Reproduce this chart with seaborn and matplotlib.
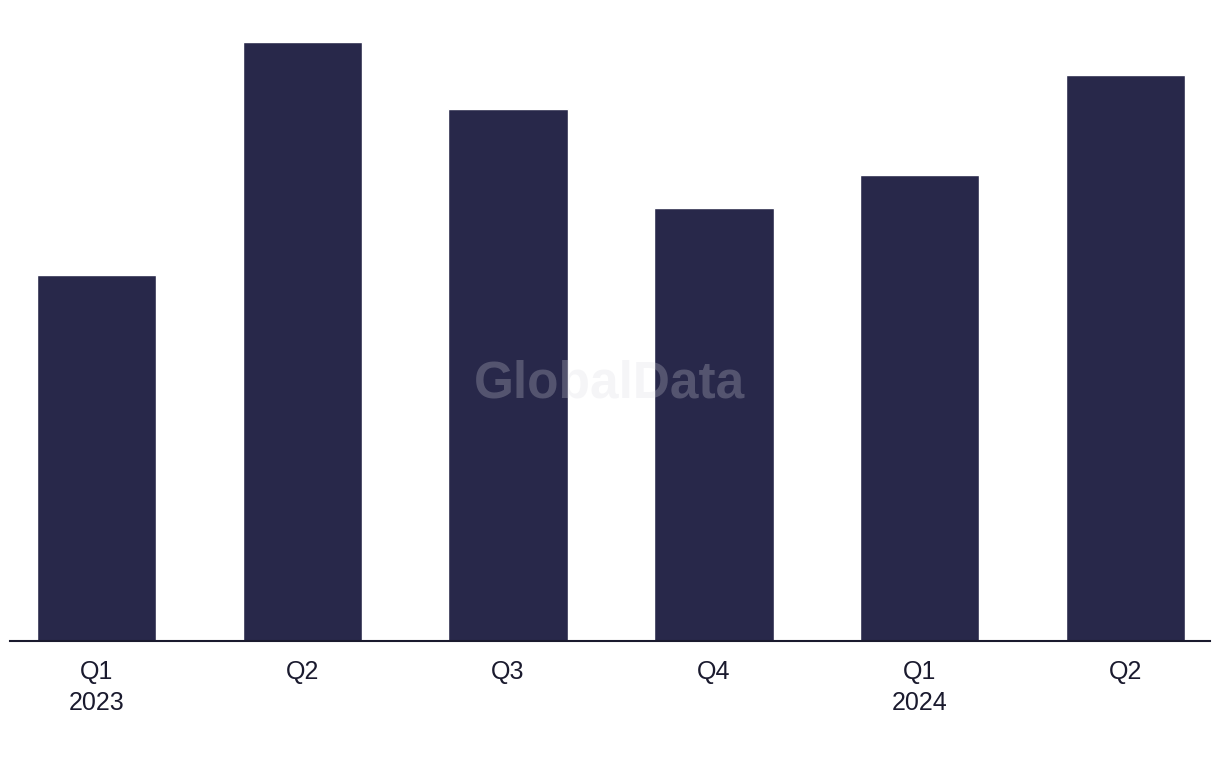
import matplotlib
matplotlib.use("Agg")
import matplotlib.pyplot as plt
import seaborn as sns
import pandas as pd

quarters = ["Q1\n2023", "Q2", "Q3", "Q4", "Q1\n2024", "Q2"]
values = [11, 18, 16, 13, 14, 17]
bar_color = "#28284a"

sns.set_style("white")
plt.rcParams["font.family"] = ["Liberation Sans", "DejaVu Sans"]

df = pd.DataFrame({"quarter": range(len(quarters)), "value": values})

fig = plt.figure(figsize=(12.2, 7.68), dpi=100)
ax = fig.add_axes([10 / 1220, 127 / 768, 1200 / 1220, 599 / 768])

sns.barplot(data=df, x="quarter", y="value", color=bar_color, width=0.58,
            saturation=1, ax=ax)

ax.set_xlim(-0.42, 5.41)
ax.set_ylim(0, 18)
ax.set_xticks(range(len(quarters)))
ax.set_xticklabels(quarters, fontsize=18, color="#1a1a2e", linespacing=1.35)
ax.tick_params(axis="x", length=0, pad=14)
ax.set_yticks([])
ax.set_xlabel("")
ax.set_ylabel("")
for side in ["top", "right", "left"]:
    ax.spines[side].set_visible(False)
ax.spines["bottom"].set_color("#1a1a2e")
ax.spines["bottom"].set_linewidth(1.5)

# watermark
fig.text(610 / 1220, 1 - 384 / 768, "GlobalData", ha="center", va="center",
         fontsize=37, fontweight="bold", color="#d8d8e0", alpha=0.25,
         family=["Liberation Sans", "DejaVu Sans"])

fig.savefig("out.png", dpi=100)
